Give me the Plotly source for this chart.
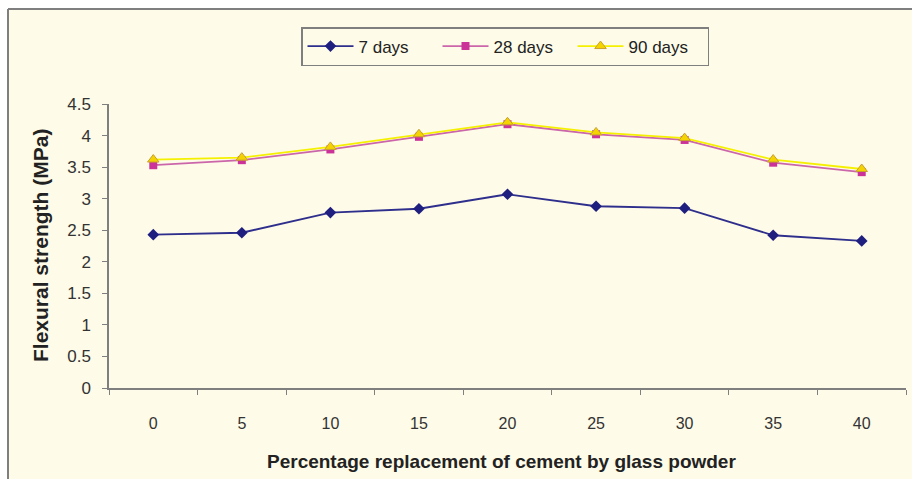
import plotly.graph_objects as go

categories = ["0", "5", "10", "15", "20", "25", "30", "35", "40"]
days7 = [2.43, 2.46, 2.78, 2.84, 3.07, 2.88, 2.85, 2.42, 2.33]
days28 = [3.53, 3.61, 3.78, 3.98, 4.18, 4.02, 3.93, 3.57, 3.42]
days90 = [3.62, 3.65, 3.82, 4.02, 4.21, 4.05, 3.96, 3.62, 3.47]
y_ticks = [0, 0.5, 1, 1.5, 2, 2.5, 3, 3.5, 4, 4.5]
y_labels = ["0", "0.5", "1", "1.5", "2", "2.5", "3", "3.5", "4", "4.5"]

W, H = 912, 479
L, R, T, B = 109, 6, 104, 91
pw, ph = W - L - R, H - T - B

def px(x):
    return (x - L) / pw

def py(y):
    return (H - B - y) / ph

bg = "#fefbe8"
fig = go.Figure()
fig.add_trace(go.Scatter(x=categories, y=days7, name="7 days", mode="lines+markers",
                         line=dict(color="#2e2e8c", width=1.8),
                         marker=dict(symbol="diamond", size=9, color="#1f1f80")))
fig.add_trace(go.Scatter(x=categories, y=days28, name="28 days", mode="lines+markers",
                         line=dict(color="#cc66aa", width=1.8),
                         marker=dict(symbol="square", size=8, color="#cc3399")))
fig.add_trace(go.Scatter(x=categories, y=days90, name="90 days", mode="lines+markers",
                         line=dict(color="#f5f000", width=1.8),
                         marker=dict(symbol="triangle-up", size=10, color="#f5d300",
                                     line=dict(color="#c8a030", width=1))))

fig.update_layout(
    width=W, height=H,
    margin=dict(l=L, r=R, t=T, b=B),
    paper_bgcolor=bg, plot_bgcolor=bg,
    font=dict(family="Arial, Liberation Sans, sans-serif", size=16, color="#333333"),
    showlegend=True,
    legend=dict(orientation="h", x=px(505), y=py(27), xanchor="center", yanchor="top",
                bgcolor=bg, bordercolor="#7f7f7f", borderwidth=1.5,
                font=dict(size=17, color="#222222"), itemwidth=46,
                tracegroupgap=0, entrywidth=74),
    xaxis=dict(type="category", showgrid=False, zeroline=False,
               showline=True, linecolor="#7f7f7f", linewidth=1.5,
               ticks="outside", tickson="boundaries", ticklen=5, tickcolor="#7f7f7f",
               ticklabelstandoff=20, range=[-0.5, 8.5], tickfont=dict(size=16)),
    yaxis=dict(range=[0, 4.5], tickvals=y_ticks, ticktext=y_labels, showgrid=False,
               zeroline=False, showline=True, linecolor="#7f7f7f", linewidth=1.5,
               ticks="outside", ticklen=5, tickcolor="#7f7f7f", ticklabelstandoff=8,
               tickfont=dict(size=17)),
    shapes=[
        dict(type="rect", xref="paper", yref="paper", x0=px(-5), x1=px(8), y0=py(500), y1=py(-5),
             fillcolor="white", line=dict(width=0), layer="above"),
        dict(type="rect", xref="paper", yref="paper", x0=px(-5), x1=px(920), y0=py(9), y1=py(-5),
             fillcolor="white", line=dict(width=0), layer="above"),
        dict(type="line", xref="paper", yref="paper", x0=px(8), x1=px(8), y0=py(9), y1=py(500),
             line=dict(color="#7f7f7f", width=2)),
        dict(type="line", xref="paper", yref="paper", x0=px(8), x1=px(920), y0=py(9), y1=py(9),
             line=dict(color="#7f7f7f", width=2)),
    ],
    annotations=[
        dict(text="<b>Flexural strength (MPa)</b>", xref="paper", yref="paper",
             x=px(40), y=py(246), textangle=-90, showarrow=False,
             font=dict(size=21, color="#222222"), xanchor="center", yanchor="middle"),
        dict(text="<b>Percentage replacement of cement by glass powder</b>", xref="paper", yref="paper",
             x=px(501), y=py(462), showarrow=False,
             font=dict(size=19, color="#222222"), xanchor="center", yanchor="middle"),
    ],
)

fig.write_html("out.html")
